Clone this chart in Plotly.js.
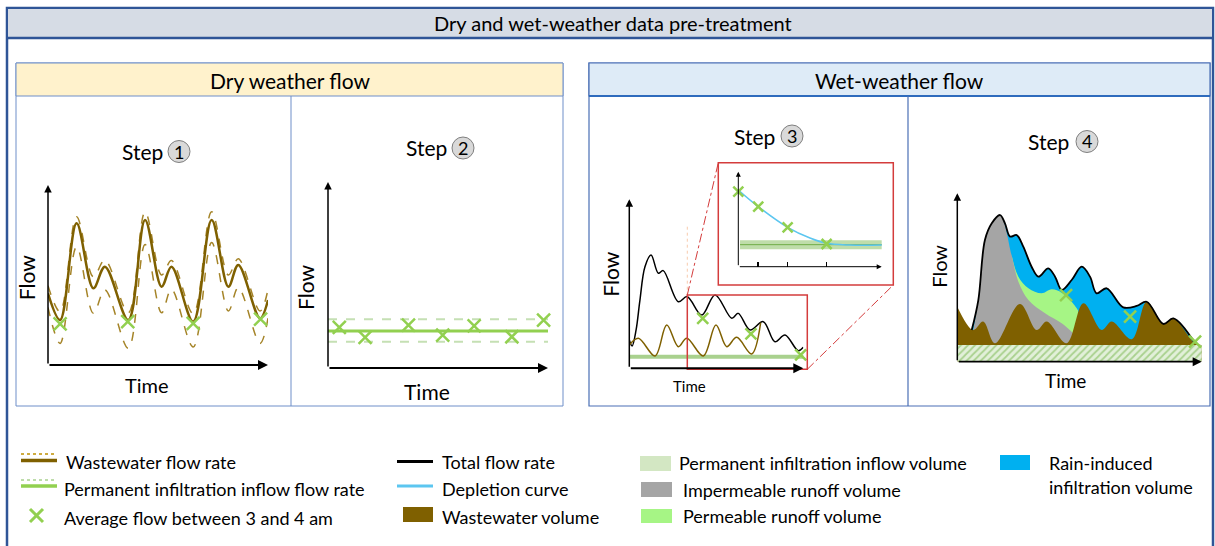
<!DOCTYPE html>
<html><head><meta charset="utf-8">
<script src="https://cdn.plot.ly/plotly-3.0.1.min.js"></script>
<style>html,body{margin:0;padding:0;background:#fff}#chart{width:1215px;height:546px}</style>
</head><body><div id="chart"></div>
<script>
// ---------- Step 1: dry weather wastewater flow (time in hours, flow in relative units) ----------
const ww_t   = [0, 4.4, 10.4, 16.5, 20.7, 29.2, 35.3, 41.3, 44.9, 52.8, 59.5, 65.6, 69.2, 77.1, 80];
const ww_mid = [39.8, 25, 78.7, 42.6, 54.6, 25, 80.6, 43.5, 54.6, 24.1, 80.6, 43.5, 55.6, 25.9, 36.1];
const ww_hi  = [44, 29.6, 82.4, 49, 58.3, 29, 85, 50, 58, 28.5, 85.2, 50, 59, 30, 42];
const ww_lo  = [32, 12, 65.7, 28.7, 41.7, 9.3, 67, 29, 42, 10, 68, 30, 43, 12, 26];
const avg1_t = [4.4, 29.0, 52.8, 77.3];
const avg1_f = [22.8, 24.1, 23.1, 25.5];

// ---------- Step 2: permanent infiltration inflow (time in days) ----------
const p2_span = [0, 7];
const p2_mean = [19.9, 19.9];
const p2_hi   = [26.2, 26.2];
const p2_lo   = [14.1, 14.1];
const p2_days = [0.36, 1.18, 2.56, 3.65, 4.65, 5.85, 6.86];
const p2_avg  = [21.9, 16.5, 23.1, 17.7, 22.6, 16.8, 25.8];

// ---------- Step 3: wet weather, total flow / wastewater / infiltration ----------
const tot3_x = [0, 1.6, 3.9, 6.1, 9.0, 12.5, 16.7, 19.5, 28.2, 33.3, 41.6, 49.3, 58.9, 62.6, 69.4, 77.0, 83.7, 89.5, 97.1, 100];
const tot3_y = [16.7, 13.2, 22.7, 40.2, 60.1, 67.0, 56.2, 57.8, 39.4, 42.4, 31.5, 43.4, 29.6, 32.5, 22.7, 27.6, 15.7, 19.7, 10.4, 12.4];
const ww3_x  = [0, 5.2, 14.8, 21.5, 28.2, 33.0, 42.5, 49.8, 56.0, 61.7, 70.3, 75.5];
const ww3_y  = [13.8, 17.8, 7.3, 25.6, 12.8, 17.8, 7.3, 25.6, 12.8, 18.3, 8.5, 27.0];
const pif3_x = [0, 101];
const pif3_y = [6.9, 6.9];
const avg3_x = [42.2, 69.9, 98.5];
const avg3_y = [29.6, 20.3, 7.9];
// inset: depletion curve
const dep_x  = [0, 13.9, 34.4, 50, 61.6, 77.9, 101];
const dep_y  = [80.7, 63.2, 41.5, 30.2, 24.6, 22.8, 22.8];
const ins_avg_x = [0, 13.9, 34.4, 61.6];
const ins_avg_y = [79, 63.2, 41.5, 23.9];
const ins_pif_x = [1.2, 103.5];
const ins_pif_y = [23.2, 23.2];

// ---------- Step 4: volume decomposition ----------
const ww4_x = [0, 6.5, 10.6, 15.4, 25.6, 32.5, 36.6, 44.7, 51.6, 59.1, 63.2, 71.4, 77.5, 84.3, 88.4, 97.3, 100];
const ww4_y = [32.7, 18.8, 23.8, 10.9, 34.3, 18.8, 23.8, 10.9, 34.7, 18.8, 23.8, 13.3, 35.6, 22.4, 25.7, 10.9, 9.9];
const tot4_x = [5.9, 8.6, 11.3, 14.1, 17.5, 19.5, 21.6, 24.3, 27.0, 30.4, 33.2, 37.2, 40.0, 42.7, 46.8, 50.9, 54.3, 57.0, 61.1, 67.9, 73.4, 77.5, 84.3, 88.4, 97.3];
const tot4_y = [18.8, 36.6, 72.3, 82.2, 87.1, 82.2, 74.3, 75.2, 68.3, 56.4, 50.5, 55.4, 50.5, 42.6, 48.5, 56.4, 50.5, 40.6, 43.6, 32.3, 33.1, 35.6, 22.4, 25.7, 10.9];
const gray4_x = [6.5, 8.6, 11.3, 14.1, 17.5, 22.2, 25.0, 29.1, 35.9, 42.7, 47.5];
const gray4_y = [18.8, 36.6, 72.3, 82.2, 87.1, 63.4, 47.5, 36.6, 28.7, 22.8, 16.8];
const green4_x = [22.2, 25.0, 29.1, 34.5, 38.6, 42.7, 46.8, 49.5];
const green4_y = [63.4, 50.5, 43.6, 40.6, 43.0, 41.0, 35.6, 30.3];
const pif4_x = [0, 101];
const pif4_y = [9.9, 9.9];
const avg4_x = [44.5, 70.7, 97.3];
const avg4_y = [39.6, 26.7, 11.9];

// ---------- texts ----------
const mainTitle = 'Dry and wet-weather data pre-treatment';
const dryTitle = 'Dry weather flow';
const wetTitle = 'Wet-weather flow';
const legendTexts = ['Wastewater flow rate', 'Permanent infiltration inflow flow rate', 'Average flow between 3 and 4 am',
  'Total flow rate', 'Depletion curve', 'Wastewater volume',
  'Permanent infiltration inflow volume', 'Impermeable runoff volume', 'Permeable runoff volume',
  'Rain-induced', 'infiltration volume'];

// ---------- colours ----------
const BROWN = '#7f6000', BROWN_D = '#a58428', GREEN = '#92d050', LGREEN = '#c5e0b4',
      BLUE = '#00b0f0', DEPL = '#5cc6f0', GRAY = '#a5a5a5', PGREEN = '#a6f585', RED = '#d43c3c';
const FONT = 'Lato, "Open Sans", sans-serif';

const W = 1215, H = 546;
const PX = v => v / W, PY = v => 1 - v / H;

function axis(dom, range, anchor, extra) {
  return Object.assign({domain: dom, range: range, anchor: anchor, showgrid: false, zeroline: false,
    showticklabels: false, showline: false, ticks: '', fixedrange: true}, extra || {});
}
function xmark(x, y, xa, ya, size) {
  return {x: x, y: y, xaxis: xa, yaxis: ya, mode: 'markers', cliponaxis: false, hoverinfo: 'skip',
    marker: {symbol: 'x-thin', size: size, color: GREEN, line: {width: 2.5, color: GREEN}}};
}
function line(x, y, xa, ya, color, width, dash, extra) {
  return Object.assign({x: x, y: y, xaxis: xa, yaxis: ya, mode: 'lines', cliponaxis: false, hoverinfo: 'skip',
    line: {color: color, width: width, dash: dash || 'solid', shape: 'spline', smoothing: 1}}, extra || {});
}
function area(x, y, xa, ya, color, extra) {
  return Object.assign({x: x, y: y, xaxis: xa, yaxis: ya, mode: 'lines', fill: 'tozeroy', fillcolor: color,
    cliponaxis: false, hoverinfo: 'skip', line: {width: 0, shape: 'spline', smoothing: 1, color: color}}, extra || {});
}

const data = [
  // step 1
  line(ww_t, ww_hi, 'x', 'y', BROWN_D, 1.5, 'dash'),
  line(ww_t, ww_lo, 'x', 'y', BROWN_D, 1.5, 'dash'),
  line(ww_t, ww_mid, 'x', 'y', BROWN, 2.5),
  xmark(avg1_t, avg1_f, 'x', 'y', 13),
  // step 2
  line(p2_span, p2_hi, 'x2', 'y2', LGREEN, 2, 'dash'),
  line(p2_span, p2_lo, 'x2', 'y2', LGREEN, 2, 'dash'),
  line(p2_span, p2_mean, 'x2', 'y2', GREEN, 3),
  xmark(p2_days, p2_avg, 'x2', 'y2', 13),
  // step 3
  line(pif3_x, pif3_y, 'x3', 'y3', '#a9d18e', 4),
  line(tot3_x, tot3_y, 'x3', 'y3', '#000000', 1.5),
  line(ww3_x, ww3_y, 'x3', 'y3', BROWN, 1.5),
  xmark(avg3_x, avg3_y, 'x3', 'y3', 11),
  // inset
  line(ins_pif_x, ins_pif_y, 'x4', 'y4', 'rgba(169,209,142,0.75)', 9),
  line(ins_pif_x, ins_pif_y, 'x4', 'y4', '#70ad47', 1),
  line(dep_x, dep_y, 'x4', 'y4', DEPL, 1.5),
  xmark(ins_avg_x, ins_avg_y, 'x4', 'y4', 10),
  // step 4 (painted back to front)
  area(tot4_x, tot4_y, 'x5', 'y5', BLUE),
  area(green4_x, green4_y, 'x5', 'y5', PGREEN),
  area(gray4_x, gray4_y, 'x5', 'y5', GRAY),
  area(ww4_x, ww4_y, 'x5', 'y5', BROWN),
  area(pif4_x, pif4_y, 'x5', 'y5', '#e2f0d9', {fillpattern: {shape: '/', bgcolor: '#e2f0d9', fgcolor: '#a9d18e', size: 5, solidity: 0.35}, line: {width: 0, shape: 'linear'}}),
  line(tot4_x, tot4_y, 'x5', 'y5', '#000000', 1.8),
  xmark(avg4_x, avg4_y, 'x5', 'y5', 12)
];

// ---------- frames ----------
const shapes = [];
function rect(x0, y0, x1, y1, fill, lc, lw, extra) {
  shapes.push(Object.assign({type: 'rect', xref: 'paper', yref: 'paper', x0: PX(x0), x1: PX(x1), y0: PY(y1), y1: PY(y0),
    fillcolor: fill || 'rgba(0,0,0,0)', line: {color: lc || 'rgba(0,0,0,0)', width: lw || 0}, layer: 'below'}, extra || {}));
}
function seg(x0, y0, x1, y1, color, width, dash, layer) {
  shapes.push({type: 'line', xref: 'paper', yref: 'paper', x0: PX(x0), x1: PX(x1), y0: PY(y0), y1: PY(y1),
    line: {color: color, width: width, dash: dash || 'solid'}, layer: layer || 'above'});
}
function circ(cx, cy, r) {
  shapes.push({type: 'circle', xref: 'paper', yref: 'paper', x0: PX(cx - r), x1: PX(cx + r), y0: PY(cy + r), y1: PY(cy - r),
    fillcolor: '#d9d9d9', line: {color: '#7f7f7f', width: 1}, layer: 'above'});
}
// outer frame + main header
rect(7, 8, 1213, 600, '#ffffff', '#2f5597', 2.5);
rect(8, 9, 1212, 38, '#d6dce5', null, 0);
seg(7, 38, 1213, 38, '#2f5597', 2.5);
// dry box
rect(16, 63, 563, 406, '#ffffff', '#6f8fc9', 1);
rect(16, 63, 563, 96, '#fff2cc', '#6f8fc9', 1);
seg(291, 96, 291, 406, '#6f8fc9', 1);
// wet box
rect(589, 63, 1210, 406, '#ffffff', '#4a6fb5', 1.2);
rect(589, 63, 1210, 96, '#deebf7', '#4a6fb5', 1.2);
seg(589, 96, 1210, 96, '#2e6bbd', 2);
seg(908, 96, 908, 406, '#4a6fb5', 1.2);
// step circles
circ(179, 151.5, 11); circ(463, 148, 11); circ(792, 136, 11); circ(1087, 141.5, 11);
// step 3 zoom boxes
seg(687.3, 226.7, 687.3, 295, '#f8cbad', 1, 'dot');
rect(687.3, 295, 807.3, 369.3, null, RED, 1.5, {layer: 'above'});
rect(718.3, 162.7, 893.3, 285, null, RED, 1.5, {layer: 'above'});
seg(687.3, 295, 718.3, 162.7, RED, 1, 'dashdot');
seg(807.3, 369.3, 893.3, 285, RED, 1, 'dashdot');
// legend samples
seg(21, 454, 57, 454, '#bf9000', 1.5, 'dot');
seg(21, 460.5, 57, 460.5, BROWN, 3.5);
seg(21, 480, 57, 480, '#a9d18e', 1.5, 'dot');
seg(21, 486, 57, 486, GREEN, 3.5);
seg(30, 509, 43, 522, GREEN, 3); seg(30, 522, 43, 509, GREEN, 3);
seg(397, 461.5, 433, 461.5, '#000000', 3);
seg(397, 486, 433, 486, DEPL, 3);
rect(403, 507, 433, 522, BROWN, null, 0, {layer: 'above'});
rect(640, 456, 671, 471, '#d3e7c3', null, 0, {layer: 'above'});
rect(641, 482, 672, 497, GRAY, null, 0, {layer: 'above'});
rect(641, 509, 672, 523, PGREEN, null, 0, {layer: 'above'});
rect(1000, 455, 1030, 470, BLUE, null, 0, {layer: 'above'});

// ---------- text ----------
const annotations = [];
function txt(t, x, y, size, opts) {
  annotations.push(Object.assign({text: t, x: PX(x), y: PY(y), xref: 'paper', yref: 'paper', showarrow: false,
    xanchor: 'center', yanchor: 'middle', font: {family: FONT, size: size, color: '#000'}}, opts || {}));
}
function arrow(xr, yr, x0, y0, x1, y1, w) {
  annotations.push({xref: xr, yref: yr, axref: xr, ayref: yr, x: x1, y: y1, ax: x0, ay: y0, text: '',
    showarrow: true, arrowhead: 2, arrowsize: 1, arrowwidth: w, arrowcolor: '#000'});
}
txt(mainTitle, 613, 23, 20);
txt(dryTitle, 290, 80, 21);
txt(wetTitle, 899, 80, 21);
txt('Step', 142, 151, 21); txt('1', 179, 151.5, 18);
txt('Step', 426, 148, 21); txt('2', 463, 148, 18);
txt('Step', 754.5, 136.5, 21); txt('3', 792, 136, 18);
txt('Step', 1048.5, 141.5, 21); txt('4', 1087, 141.5, 18);
txt('Flow', 26.7, 277.5, 21, {textangle: -90});
txt('Time', 146.7, 385, 20);
txt('Flow', 305.5, 287.5, 21, {textangle: -90});
txt('Time', 427, 391.5, 21);
txt('Flow', 609.7, 274, 21, {textangle: -90});
txt('Time', 689, 386, 15);
txt('Flow', 939, 266.7, 20, {textangle: -90});
txt('Time', 1065, 380, 19);
// legend text
const lx = [64, 62, 62, 440, 440, 440, 677, 681, 681, 1047, 1047];
const ly = [461.7, 489.3, 517.7, 461.7, 489.3, 517.3, 462.7, 490, 516, 462.7, 487.3];
legendTexts.forEach((t, i) => txt(t, lx[i], ly[i], 18, {xanchor: 'left'}));
// axis arrows
arrow('x', 'y', 0, 0, 0, 100, 1.5); arrow('x', 'y', 0, 0, 80, 0, 2);
arrow('x2', 'y2', 0, 0, 0, 100, 1.5); arrow('x2', 'y2', 0, 0, 7, 0, 2);
arrow('x3', 'y3', 0, 0, 0, 100, 1.5); arrow('x3', 'y3', 0, 0, 100, 0, 2);
arrow('x4', 'y4', 0, 0, 0, 100, 1); arrow('x4', 'y4', 0, 0, 100, 0, 1);
arrow('x5', 'y5', 0, 0, 0, 100, 1.5); arrow('x5', 'y5', 0, 0, 100, 0, 1.8);

const layout = {
  width: W, height: H, margin: {l: 0, r: 0, t: 0, b: 0}, paper_bgcolor: '#ffffff', plot_bgcolor: 'rgba(0,0,0,0)',
  showlegend: false, font: {family: FONT},
  xaxis: axis([PX(48), PX(268)], [0, 80], 'y'),
  yaxis: axis([PY(365), PY(185)], [0, 100], 'x'),
  xaxis2: axis([PX(328), PX(548)], [0, 7], 'y2'),
  yaxis2: axis([PY(368), PY(182)], [0, 100], 'x2'),
  xaxis3: axis([PX(629.3), PX(803.3)], [0, 100], 'y3'),
  yaxis3: axis([PY(368.3), PY(199.3)], [0, 100], 'x3'),
  xaxis4: axis([PX(738.3), PX(881.7)], [0, 100], 'y4', {ticks: 'inside', tickvals: ins_avg_x.slice(1), ticklen: 5, tickwidth: 1.5, tickcolor: '#000'}),
  yaxis4: axis([PY(266.7), PY(171.7)], [0, 100], 'x4'),
  xaxis5: axis([PX(957.3), PX(1201.7)], [0, 100], 'y5'),
  yaxis5: axis([PY(361.7), PY(193.3)], [0, 100], 'x5'),
  shapes: shapes, annotations: annotations
};
Plotly.newPlot('chart', data, layout, {staticPlot: true, displayModeBar: false});
</script>
</body></html>
